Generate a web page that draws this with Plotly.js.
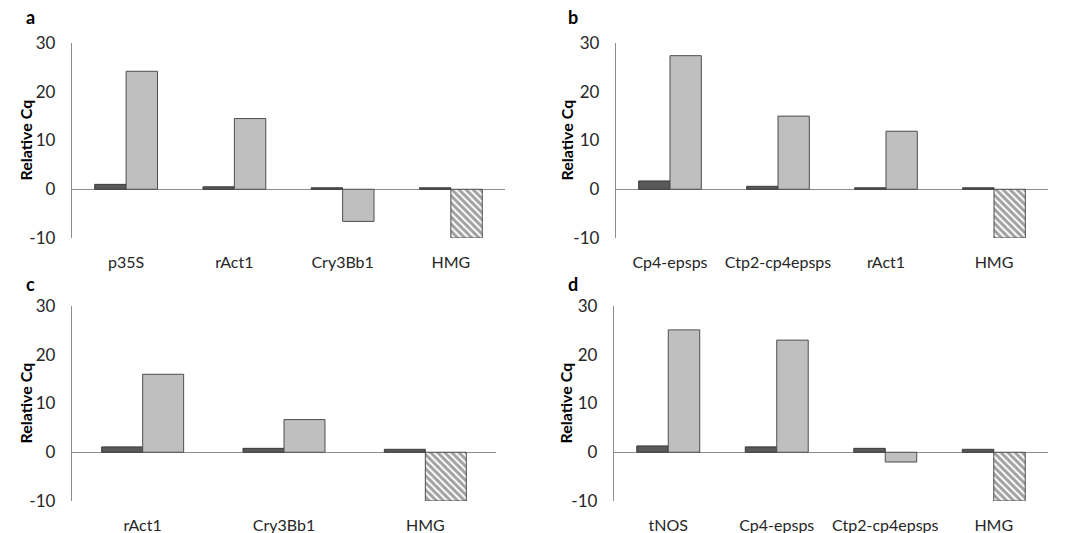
<!DOCTYPE html>
<html><head><meta charset="utf-8">
<script src="https://cdn.plot.ly/plotly-3.0.1.min.js"></script>
<style>html,body{margin:0;padding:0;background:#fff;}#chart{width:1067px;height:533px;}</style>
</head><body><div id="chart"></div>
<script>
// Panel a
const catsA = ["p35S", "rAct1", "Cry3Bb1", "HMG"];
const darkA = [1.0, 0.5, 0.3, 0.3];
const lightA = [24.2, 14.5, -6.6, -10];
// Panel b
const catsB = ["Cp4-epsps", "Ctp2-cp4epsps", "rAct1", "HMG"];
const darkB = [1.7, 0.6, 0.3, 0.3];
const lightB = [27.4, 15.0, 11.9, -10];
// Panel c
const catsC = ["rAct1", "Cry3Bb1", "HMG"];
const darkC = [1.1, 0.8, 0.6];
const lightC = [16.0, 6.7, -10];
// Panel d
const catsD = ["tNOS", "Cp4-epsps", "Ctp2-cp4epsps", "HMG"];
const darkD = [1.3, 1.1, 0.8, 0.6];
const lightD = [25.1, 23.0, -2.0, -10];
const panelLetters = ["a", "b", "c", "d"];
const yTicks = [-10, 0, 10, 20, 30];
const yTitle = "Relative Cq";

const W = 1067, H = 533;
const FONT = "Lato, 'Noto Sans', sans-serif";
const panels = [
  {cats: catsA, dark: darkA, light: lightA, x0: 72, x1: 505, yt: 43, yb: 238, lx: 30, ly: 17, tx: 25},
  {cats: catsB, dark: darkB, light: lightB, x0: 616, x1: 1048, yt: 43, yb: 238, lx: 573, ly: 17, tx: 566},
  {cats: catsC, dark: darkC, light: lightC, x0: 72, x1: 496, yt: 306, yb: 501, lx: 30, ly: 284, tx: 25},
  {cats: catsD, dark: darkD, light: lightD, x0: 614, x1: 1048, yt: 306, yb: 501, lx: 573, ly: 284, tx: 565}
];

const data = [];
const layout = {
  width: W, height: H,
  margin: {l: 0, r: 0, t: 0, b: 0},
  paper_bgcolor: "#fff", plot_bgcolor: "#fff",
  showlegend: false,
  barmode: "group", bargap: 0.42, bargroupgap: 0,
  font: {family: FONT, size: 15, color: "#404040"},
  annotations: []
};

panels.forEach((p, i) => {
  const n = i + 1;
  const xa = n === 1 ? "x" : "x" + n;
  const ya = n === 1 ? "y" : "y" + n;
  const last = p.cats.length - 1;
  data.push({
    type: "bar", x: p.cats, y: p.dark, xaxis: xa, yaxis: ya,
    marker: {color: "#595959", line: {color: "#3a3a3a", width: 1}},
    hoverinfo: "x+y"
  });
  data.push({
    type: "bar", x: p.cats, y: p.light, xaxis: xa, yaxis: ya,
    marker: {
      color: p.cats.map((c, j) => j === last ? "#ffffff" : "#bfbfbf"),
      line: {color: "#4d4d4d", width: 1},
      pattern: {
        shape: p.cats.map((c, j) => j === last ? "\\" : ""),
        fgcolor: "#000000", bgcolor: "#ffffff",
        size: 5, solidity: 0.6, fillmode: "overlay"
      }
    },
    hoverinfo: "x+y"
  });
  const xk = n === 1 ? "xaxis" : "xaxis" + n;
  const yk = n === 1 ? "yaxis" : "yaxis" + n;
  layout[xk] = {
    domain: [p.x0 / W, p.x1 / W], anchor: ya,
    showline: false, showgrid: false, zeroline: false, ticks: "",
    ticklabelstandoff: 13,
    tickfont: {family: FONT, size: 16, color: "#262626"},
    fixedrange: true
  };
  layout[yk] = {
    domain: [1 - p.yb / H, 1 - p.yt / H], anchor: xa,
    range: [-10, 30], tickvals: yTicks, ticktext: yTicks.map(String),
    showline: true, linecolor: "#8c8c8c", linewidth: 1.2,
    showgrid: false, zeroline: true, zerolinecolor: "#8c8c8c", zerolinewidth: 1.5,
    ticks: "", ticklabelstandoff: 12,
    tickfont: {family: FONT, size: 17, color: "#262626"},
    fixedrange: true
  };
  layout.annotations.push({
    text: "<b>" + yTitle + "</b>", xref: "paper", yref: "paper",
    x: p.tx / W, y: 1 - ((p.yt + p.yb) / 2) / H, xanchor: "center", yanchor: "middle",
    textangle: -90, showarrow: false, font: {family: FONT, size: 16, color: "#000"}
  });
  layout.annotations.push({
    text: "<b>" + panelLetters[i] + "</b>", xref: "paper", yref: "paper",
    x: p.lx / W, y: 1 - p.ly / H, xanchor: "center", yanchor: "middle",
    showarrow: false, font: {family: FONT, size: 18, color: "#000"}
  });
});

Plotly.newPlot("chart", data, layout, {displayModeBar: false, staticPlot: true});
</script></body></html>
